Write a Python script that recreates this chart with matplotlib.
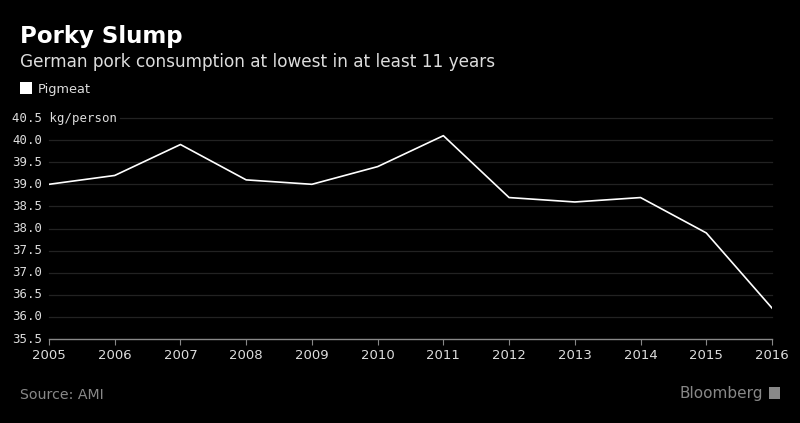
import matplotlib
matplotlib.use("Agg")
import matplotlib.pyplot as plt
import matplotlib.transforms as mtransforms
from matplotlib.patches import Rectangle

years = [2005, 2006, 2007, 2008, 2009, 2010, 2011, 2012, 2013, 2014, 2015, 2016]
pigmeat = [39.0, 39.2, 39.9, 39.1, 39.0, 39.4, 40.1, 38.7, 38.6, 38.7, 37.9, 36.2]
yticks = [35.5, 36.0, 36.5, 37.0, 37.5, 38.0, 38.5, 39.0, 39.5, 40.0, 40.5]
ylabels = ["35.5", "36.0", "36.5", "37.0", "37.5", "38.0", "38.5", "39.0", "39.5", "40.0", "40.5 kg/person"]

fig = plt.figure(figsize=(8, 4.23), dpi=100, facecolor="black")
ax = fig.add_axes([49/800, 1-339/423, (772-49)/800, (339-118)/423])
ax.set_facecolor("black")

ax.plot(years, pigmeat, color="white", lw=1.2, zorder=3)
ax.set_xlim(2005, 2016)
ax.set_ylim(35.5, 40.5)
ax.set_xticks(years)
ax.set_xticklabels([str(y) for y in years], color="#dddddd", fontsize=9.5, family="DejaVu Sans")
ax.set_yticks(yticks)
ax.set_yticklabels([])
ax.tick_params(axis="y", length=0)
ax.tick_params(axis="x", length=4, color="#888888", pad=3, direction="out")

for s in ["left", "right", "top"]:
    ax.spines[s].set_visible(False)
ax.spines["bottom"].set_color("#888888")
ax.spines["bottom"].set_linewidth(1)

trans = mtransforms.blended_transform_factory(fig.transFigure, ax.transData)
for v, lab in zip(yticks, ylabels):
    ax.text(12/800, v, lab, transform=trans, ha="left", va="center",
            color="#dddddd", fontsize=8.9, family="DejaVu Sans Mono")
    if v == 35.5:
        continue
    start = 2005 if v != 40.5 else 2005 + (120-49)/(772-49)*11
    ax.plot([start, 2016], [v, v], color="#222222", lw=0.9, zorder=1, clip_on=False)

fig.text(20/800, 1-37/423, "Porky Slump", color="white", fontsize=16.5, fontweight="bold",
         family="DejaVu Sans", va="center", ha="left")
fig.text(20/800, 1-62/423, "German pork consumption at lowest in at least 11 years", color="#dddddd",
         fontsize=12.2, family="DejaVu Sans", va="center", ha="left")
fig.patches.append(Rectangle((20/800, 1-94/423), 12/800, 12/423, transform=fig.transFigure,
                             facecolor="white", edgecolor="none"))
fig.text(38/800, 1-89/423, "Pigmeat", color="#dddddd", fontsize=9.3, family="DejaVu Sans",
         va="center", ha="left")
fig.text(20/800, 1-395/423, "Source: AMI", color="#888888", fontsize=10.2, family="DejaVu Sans",
         va="center", ha="left")
fig.text(763/800, 1-393/423, "Bloomberg", color="#888888", fontsize=11, family="DejaVu Sans",
         va="center", ha="right")
fig.patches.append(Rectangle((769/800, 1-399/423), 11/800, 12/423, transform=fig.transFigure,
                             facecolor="#888888", edgecolor="none"))

fig.savefig("out.png", dpi=100, facecolor="black")
